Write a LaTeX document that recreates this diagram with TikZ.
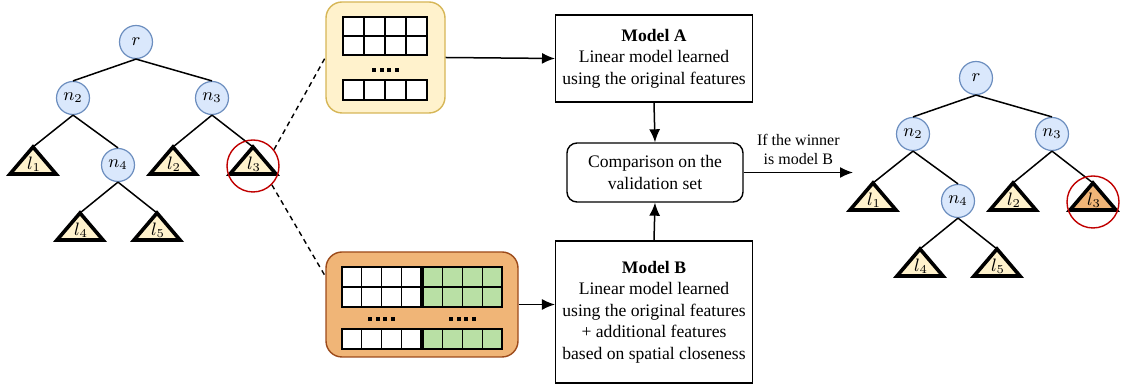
\documentclass[tikz,border=0pt]{standalone}
\usetikzlibrary{calc,arrows.meta}
\usepackage{fontspec}
\setmainfont{Liberation Serif}

\definecolor{nodeblue}{HTML}{DAE8FC}
\definecolor{nodeedge}{HTML}{6C8EBF}
\definecolor{leafyellow}{HTML}{FFF2CC}
\definecolor{boxedge}{HTML}{D6B656}
\definecolor{leaforange}{HTML}{F0B577}
\definecolor{orangeedge}{HTML}{9C4A1A}
\definecolor{cellgreen}{HTML}{B9E0A5}
\definecolor{selred}{HTML}{C00000}

\begin{document}
\begin{tikzpicture}[x=0.5pt, y=-0.5pt, >={Latex[length=6.5pt,width=5.5pt]},
    inner/.style={circle, draw=nodeedge, fill=nodeblue, line width=0.6pt,
        minimum size=16.5pt, inner sep=0pt, font=\fontsize{9}{11}\selectfont},
    leaf/.style={draw, line width=1.8pt, line join=miter},
    edge/.style={line width=0.75pt},
    selected/.style={circle, draw=selred, line width=0.7pt, minimum size=26pt, inner sep=0pt},
    model/.style={draw, line width=0.7pt, align=center, minimum width=95pt,
        font=\fontsize{8.8}{10.75}\selectfont},
    cell/.style={draw, line width=0.7pt}]
    \useasboundingbox (0,0) rectangle (1121,389);

    % the two trees, the right one with the new leaf model
    \foreach \t/\dx/\dy/\col in {L/0/0/leafyellow, R/840/36/leaforange} {
        \begin{scope}[shift={(\dx,\dy)}]
            \foreach \n/\x/\y/\lab in {r/136/42/r, n2/73/98/n_2, n3/212/98/n_3, n4/118/165/n_4}
                \node[inner] (\t\n) at (\x,\y) {$\lab$};
            \foreach \n/\x/\y/\c in {1/33/147/leafyellow, 2/173/147/leafyellow, 3/253/147/\col,
                                     4/80/213/leafyellow, 5/157/213/leafyellow} {
                \coordinate (\t l\n) at (\x,\y);
                \draw[leaf, fill=\c] (\t l\n) -- ++(-23,27) -- ++(46,0) -- cycle;
                \node[font=\fontsize{9}{11}\selectfont, inner sep=0pt] (\t lab\n) at (\x+1,\y+17) {$l_\n$};
            }
            \foreach \a/\b in {r/n2, r/n3, n2/n4}
                \draw[edge] (\t\a.south) -- (\t\b.north);
            \foreach \a/\b in {n2/1, n3/2, n3/3, n4/4, n4/5}
                \draw[edge] (\t\a.south) -- (\t l\b);
            \node[selected] (\t sel) at (253,166) {};
        \end{scope}
    }

    % data of the leaf, original features only
    \node[draw=boxedge, fill=leafyellow, rounded corners=8pt, line width=0.7pt,
          minimum width=59.5pt, minimum height=55.5pt] (ybox) at (385.5,57.5) {};
    \foreach \i in {0,...,3} {
        \foreach \j in {0,1}
            \draw[cell, fill=white] (343+21*\i,17+19*\j) rectangle ++(21,19);
        \draw[cell, fill=white] (343+21*\i,80) rectangle ++(21,20);
        \fill (372+7.5*\i,68) rectangle ++(4,4);
    }

    % data of the leaf, with the additional features
    \node[draw=orangeedge, fill=leaforange, rounded corners=8pt, line width=0.7pt,
          minimum width=96pt, minimum height=52.5pt] (obox) at (422,304.5) {};
    \foreach \i in {0,...,3} {
        \foreach \j in {0,1} {
            \draw[cell, fill=white] (342+19.75*\i,267+20*\j) rectangle ++(19.75,20);
            \draw[cell, fill=cellgreen] (423+19.75*\i,267+20*\j) rectangle ++(19.75,20);
        }
        \draw[cell, fill=white] (342+19.75*\i,329) rectangle ++(19.75,20);
        \draw[cell, fill=cellgreen] (423+19.75*\i,329) rectangle ++(19.75,20);
        \fill (368+7.5*\i,317) rectangle ++(4,4);
        \fill (449+7.5*\i,317) rectangle ++(4,4);
    }

    \draw[dash pattern=on 2.5pt off 2pt, line width=0.7pt] (Lsel.38) -- (ybox.west);
    \draw[dash pattern=on 2.5pt off 2pt, line width=0.7pt] (Lsel.-45) -- ([yshift=-12.5pt]obox.north west);

    % models and comparison
    \node[model, minimum height=43.5pt] (modA) at (654,58.5)
        {\textbf{Model A}\\Linear model learned\\using the original features};
    \node[model, minimum height=71pt] (modB) at (654,312)
        {\textbf{Model B}\\Linear model learned\\using the original features\\+ additional features\\based on spatial closeness};
    \node[model, rounded corners=5pt, minimum width=88pt, minimum height=29.5pt] (cmp) at (655,172.5)
        {Comparison on the\\validation set};
    \coordinate (win) at (853,172.5);

    \draw[->, edge] (ybox.east) -- (modA.west);
    \draw[->, edge] (obox.east) -- (obox.east -| modB.west);
    \draw[->, edge] (modA.south) -- (cmp.north);
    \draw[->, edge] (modB.north) -- (cmp.south);
    \draw[->, edge] (cmp.east) -- (win)
        node[midway, above, align=center, font=\fontsize{8}{9.5}\selectfont] {If the winner\\is model B};
\end{tikzpicture}
\end{document}
